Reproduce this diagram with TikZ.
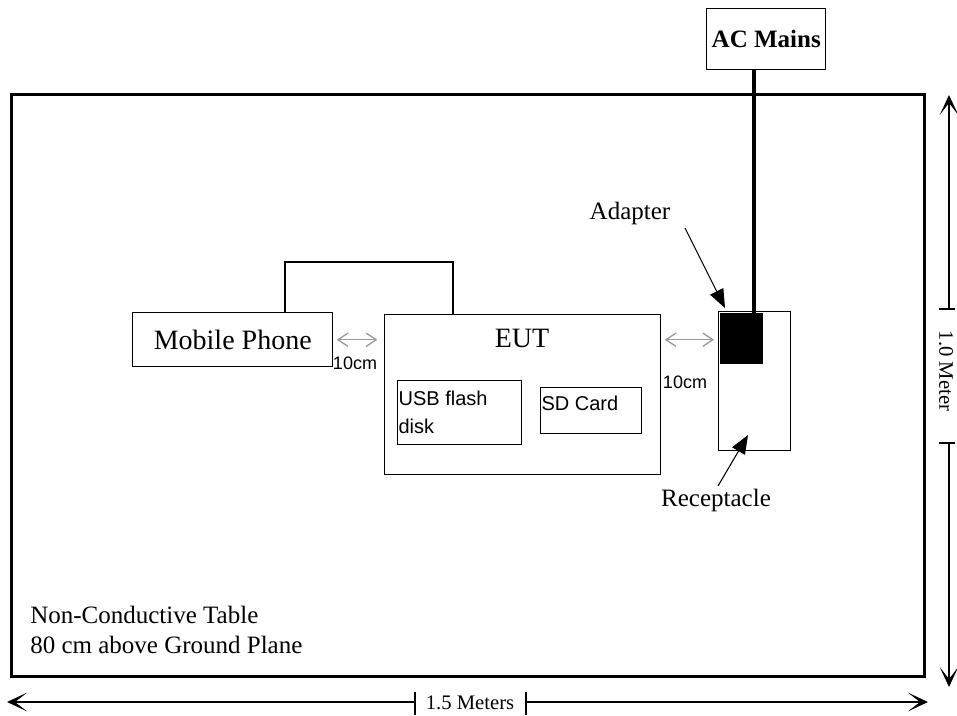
\documentclass[tikz,border=0pt]{standalone}
\usepackage{fontspec}
\setmainfont{Liberation Serif}
\newfontfamily\arialfont{Liberation Sans}
\usetikzlibrary{arrows.meta}
\begin{document}
\begin{tikzpicture}[x=0.75pt,y=-0.75pt,
  box/.style={draw, line width=1.1pt, inner sep=0pt, anchor=north west},
  serifbig/.style={font=\fontsize{21}{24}\selectfont},
  serifmid/.style={font=\fontsize{18.75}{22.5}\selectfont},
  serifsmall/.style={font=\fontsize{15.5}{18}\selectfont},
  sanstext/.style={font=\arialfont\fontsize{15}{21}\selectfont},
  sanssmall/.style={font=\arialfont\fontsize{13.5}{16}\selectfont},
  cable/.style={line width=1.1pt},
  greyarrow/.style={draw=black!40, line width=1pt, {Straight Barb[length=7.5pt,width=10pt]}-{Straight Barb[length=7.5pt,width=10pt]}},
  callout/.style={line width=0.8pt, -{Triangle[length=14pt,width=11pt]}},
  dimarrow/.style={line width=1pt, -{Stealth[length=15pt,width=14pt,inset=9pt]}},
  dimline/.style={line width=1pt}]
\useasboundingbox (0,0) rectangle (957,716);

% table
\node[box, line width=2.25pt, minimum width=684.75pt, minimum height=436.5pt] (table) at (10,93) {};
\node[serifmid, align=left, anchor=west, inner sep=0pt] (tabletext) at (30,630) {Non-Conductive Table\\80 cm above Ground Plane};

% AC mains
\node[box, minimum width=89.25pt, minimum height=45.75pt, font=\bfseries\fontsize{18.75}{22}\selectfont] (ac) at (706,8) {AC Mains};

% mobile phone
\node[box, serifbig, minimum width=150pt, minimum height=40.5pt] (phone) at (132,312) {Mobile Phone};

% EUT
\node[box, minimum width=207pt, minimum height=120pt] (eut) at (384,314) {};
\node[serifbig, anchor=base, inner sep=0pt] (eutlabel) at (522,348) {EUT};
\node[box, minimum width=93pt, minimum height=48pt] (usb) at (397,380) {};
\node[sanstext, align=left, anchor=west, inner sep=1pt] (usbtext) at (397,412) {USB flash\\disk};
\node[box, minimum width=75.75pt, minimum height=34.5pt] (sd) at (540,387) {};
\node[sanstext, anchor=west, inner sep=1pt] (sdtext) at (540,403) {SD Card};

% receptacle and adapter
\node[box, minimum width=54pt, minimum height=104.25pt] (recep) at (718,311) {};
\node[fill=black, draw=none, inner sep=0pt, anchor=north west, minimum width=32.25pt, minimum height=38.25pt] (adapter) at (720,313) {};

% power cord
\coordinate (cordtop) at (754,69);
\coordinate (cordbot) at (754,318);
\draw[line width=3pt] (cordtop) -- (cordbot);

% phone-EUT cable
\coordinate (ca) at (285,262);
\coordinate (cb) at (453,262);
\draw[cable] (ca |- phone.north) -- (ca) -- (cb) -- (cb |- eut.north);

% 10 cm spacing arrows
\draw[greyarrow] ([xshift=2.5pt]phone.east) -- ([xshift=-5pt]phone.east -| eut.west);
\draw[greyarrow] ([xshift=2.5pt]eut.east |- phone.east) -- ([xshift=-3pt]recep.west |- phone.east);
\node[sanssmall, inner sep=0pt] (tencmL) at (355,363) {10cm};
\node[sanssmall, inner sep=0pt] (tencmR) at (685,382) {10cm};

% callouts
\node[serifmid, inner sep=0pt] (adaptlbl) at (630,213) {Adapter};
\coordinate (adtail) at (685,228);
\coordinate (adtip) at (725,308);
\draw[callout] (adtail) -- (adtip);
\node[serifmid, inner sep=0pt] (reclbl) at (716,500) {Receptacle};
\coordinate (rectail) at (718,486);
\coordinate (rectip) at (748,435);
\draw[callout] (rectail) -- (rectip);

% vertical dimension
\coordinate (vtop) at (949,95);
\coordinate (vt1) at (949,309);
\coordinate (vt2) at (949,443);
\coordinate (vbot) at (949,687);
\draw[dimarrow] (vt1) -- (vtop);
\draw[dimarrow] (vt2) -- (vbot);
\draw[dimline] ([xshift=-7.5pt]vt1) -- ([xshift=4.5pt]vt1);
\draw[dimline] ([xshift=-7.5pt]vt2) -- ([xshift=4.5pt]vt2);
\node[serifsmall, rotate=-90, inner sep=0pt] (vlabel) at (946,371) {1.0 Meter};

% horizontal dimension
\coordinate (hl) at (7,702);
\coordinate (ht1) at (415,702);
\coordinate (ht2) at (526,702);
\coordinate (hr) at (928,702);
\draw[dimarrow] (ht1) -- (hl);
\draw[dimarrow] (ht2) -- (hr);
\draw[dimline] ([yshift=7.5pt]ht1) -- ([yshift=-9.75pt]ht1);
\draw[dimline] ([yshift=7.5pt]ht2) -- ([yshift=-9.75pt]ht2);
\node[serifsmall, inner sep=0pt] (hlabel) at (470,703) {1.5 Meters};
\end{tikzpicture}
\end{document}
